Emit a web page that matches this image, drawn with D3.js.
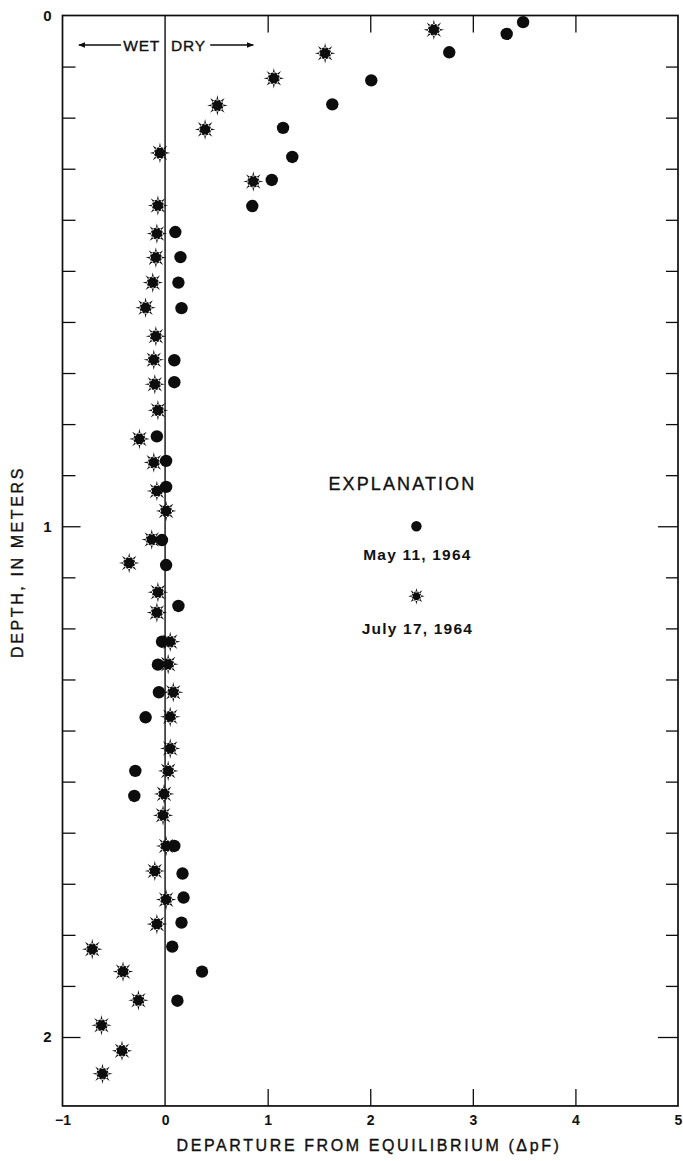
<!DOCTYPE html>
<html>
<head>
<meta charset="utf-8">
<script src="https://cdn.jsdelivr.net/npm/d3@7"></script>
<style>
  html, body { margin: 0; padding: 0; background: #fff; }
  svg { display: block; }
  text { font-family: "Liberation Sans", Arial, sans-serif; fill: #111; }
</style>
</head>
<body>
<svg id="chart" width="683" height="1161"></svg>
<script>
// ---------- DATA ----------
// May 11, 1964 (filled circles): departure from equilibrium (ΔpF) and depth (m)
const mayDeparture = [3.49, 3.33, 2.77, 2.01, 1.63, 1.15, 1.24, 1.04, 0.85, 0.10,
  0.15, 0.13, 0.16, 0.09, 0.09, -0.08, 0.01, 0.01, -0.03, 0.01,
  0.13, -0.03, -0.07, -0.06, -0.19, -0.29, -0.30, 0.09, 0.17, 0.18,
  0.16, 0.07, 0.36, 0.12];
const mayDepth = [0.013, 0.036, 0.072, 0.127, 0.174, 0.220, 0.277, 0.322, 0.373, 0.424,
  0.473, 0.523, 0.573, 0.675, 0.718, 0.824, 0.872, 0.923, 1.027, 1.076,
  1.156, 1.226, 1.271, 1.325, 1.374, 1.479, 1.528, 1.626, 1.680, 1.727,
  1.776, 1.823, 1.872, 1.929];
// July 17, 1964 (sunburst symbols)
const julyDeparture = [2.62, 1.56, 1.06, 0.51, 0.39, -0.05, 0.86, -0.07, -0.08, -0.09,
  -0.12, -0.19, -0.09, -0.11, -0.10, -0.07, -0.25, -0.11, -0.08, 0.01,
  -0.13, -0.35, -0.07, -0.08, 0.05, 0.03, 0.08, 0.05, 0.05, 0.03,
  -0.01, -0.02, 0.01, -0.10, 0.01, -0.08, -0.71, -0.41, -0.26, -0.62,
  -0.42, -0.61];
const julyDepth = [0.028, 0.074, 0.123, 0.176, 0.223, 0.269, 0.325, 0.372, 0.427, 0.474,
  0.523, 0.572, 0.628, 0.674, 0.722, 0.773, 0.829, 0.875, 0.931, 0.970,
  1.026, 1.072, 1.129, 1.169, 1.226, 1.270, 1.325, 1.373, 1.435, 1.479,
  1.524, 1.566, 1.626, 1.675, 1.731, 1.779, 1.828, 1.872, 1.928, 1.977,
  2.027, 2.072];
const xTickValues = [-1, 0, 1, 2, 3, 4, 5];
const depthTickValues = [0.1,0.2,0.3,0.4,0.5,0.6,0.7,0.8,0.9,1.0,1.1,1.2,1.3,1.4,1.5,1.6,1.7,1.8,1.9,2.0];
const depthLabelValues = [0, 1, 2];
const seriesNames = ["May 11, 1964", "July 17, 1964"];

// ---------- LAYOUT ----------
const svg = d3.select("#chart");
const xMin = -1, xMax = 5, depthMax = 2.135;
const x = d3.scaleLinear().domain([xMin, xMax]).range([62.5, 678]);
const y = d3.scaleLinear().domain([0, 2]).range([15.5, 1037]);
const pL = x(xMin), pR = x(xMax), pT = y(0), pB = y(depthMax);
const ink = "#0d0d0d";

// frame
svg.append("rect")
  .attr("x", pL).attr("y", pT)
  .attr("width", pR - pL).attr("height", pB - pT)
  .attr("fill", "none").attr("stroke", ink).attr("stroke-width", 1.7);

// zero line
svg.append("line")
  .attr("x1", x(0)).attr("x2", x(0)).attr("y1", pT).attr("y2", pB)
  .attr("stroke", ink).attr("stroke-width", 1.4);

// bottom axis (ticks point inward)
const gB = svg.append("g").attr("transform", `translate(0,${pB})`)
  .call(d3.axisBottom(x).tickValues(xTickValues).tickSize(-17).tickPadding(9).tickFormat(d3.format("d")));
gB.select(".domain").remove();
gB.selectAll(".tick line").attr("stroke", ink).attr("stroke-width", 1.3)
  .filter(d => d === xMin || d === xMax || d === 0).remove();
gB.selectAll(".tick text").attr("font-size", 14).attr("font-weight", "bold")
  .style("font-family", "'Liberation Sans', Arial, sans-serif").attr("fill", ink);

// top axis ticks (inward, no labels)
const gT = svg.append("g").attr("transform", `translate(0,${pT})`)
  .call(d3.axisTop(x).tickValues(xTickValues.filter(d => d > xMin && d < xMax && d !== 0)).tickSize(-17).tickFormat(""));
gT.select(".domain").remove();
gT.selectAll(".tick line").attr("stroke", ink).attr("stroke-width", 1.3);

// left axis (inward ticks, labels only at whole metres)
const gL = svg.append("g").attr("transform", `translate(${pL},0)`)
  .call(d3.axisLeft(y).tickValues(depthTickValues).tickSize(-13).tickFormat(""));
gL.select(".domain").remove();
gL.selectAll(".tick line").attr("stroke", ink).attr("stroke-width", 1.3)
  .filter(d => Math.abs(d - Math.round(d)) < 1e-6).attr("x2", 18);
const gLL = svg.append("g").attr("transform", `translate(${pL},0)`)
  .call(d3.axisLeft(y).tickValues(depthLabelValues).tickSize(0).tickPadding(11).tickFormat(d3.format("d")));
gLL.select(".domain").remove();
gLL.selectAll(".tick text").attr("font-size", 15).attr("font-weight", "bold")
  .style("font-family", "'Liberation Sans', Arial, sans-serif").attr("fill", ink);

// right axis ticks
const gR = svg.append("g").attr("transform", `translate(${pR},0)`)
  .call(d3.axisRight(y).tickValues(depthTickValues).tickSize(-12).tickFormat(""));
gR.select(".domain").remove();
gR.selectAll(".tick line").attr("stroke", ink).attr("stroke-width", 1.3)
  .filter(d => Math.abs(d - Math.round(d)) < 1e-6).attr("x2", -20);

// axis titles
const heavy = sel => sel.attr("stroke", ink).attr("stroke-width", 0.35);
svg.append("text")
  .attr("x", 369).attr("y", 1151)
  .attr("text-anchor", "middle").attr("font-size", 16).attr("letter-spacing", 2.6)
  .call(heavy)
  .text("DEPARTURE FROM EQUILIBRIUM (ΔpF)");
svg.append("text")
  .attr("transform", `translate(23,${y(1.07)}) rotate(-90)`)
  .attr("text-anchor", "middle").attr("font-size", 16).attr("letter-spacing", 2.6)
  .call(heavy)
  .text("DEPTH, IN METERS");

// WET / DRY annotation
const defs = svg.append("defs");
defs.append("marker").attr("id", "ah").attr("viewBox", "0 0 10 10")
  .attr("refX", 9).attr("refY", 5).attr("markerWidth", 7).attr("markerHeight", 7)
  .attr("markerUnits", "userSpaceOnUse").attr("orient", "auto")
  .append("path").attr("d", "M0,1 L10,5 L0,9 Z").attr("fill", ink);
const annY = 45;
svg.append("line").attr("x1", x(-0.43)).attr("x2", x(-0.84)).attr("y1", annY).attr("y2", annY)
  .attr("stroke", ink).attr("stroke-width", 1.3).attr("marker-end", "url(#ah)");
svg.append("line").attr("x1", x(0.44)).attr("x2", x(0.86)).attr("y1", annY).attr("y2", annY)
  .attr("stroke", ink).attr("stroke-width", 1.3).attr("marker-end", "url(#ah)");
svg.append("text").attr("x", x(0) - 5).attr("y", annY + 6).attr("text-anchor", "end")
  .attr("font-size", 15.5).attr("letter-spacing", 0.8).call(heavy).text("WET");
svg.append("text").attr("x", x(0) + 6).attr("y", annY + 6).attr("text-anchor", "start")
  .attr("font-size", 15.5).attr("letter-spacing", 0.8).call(heavy).text("DRY");

// sunburst symbol path
function burstPath(r0, r1, n) {
  const p = d3.path();
  p.moveTo(r0, 0); p.arc(0, 0, r0, 0, 2 * Math.PI); p.closePath();
  for (let i = 0; i < n; i++) {
    const a = i * 2 * Math.PI / n;
    const c = Math.cos(a), s = Math.sin(a), w = 1.1;
    p.moveTo((r0 - 1) * c - w * s, (r0 - 1) * s + w * c);
    p.lineTo(r1 * c, r1 * s);
    p.lineTo((r0 - 1) * c + w * s, (r0 - 1) * s - w * c);
    p.closePath();
  }
  return p.toString();
}

// data marks
const mayData = mayDeparture.map((v, i) => ({ v, d: mayDepth[i] }));
const julyData = julyDeparture.map((v, i) => ({ v, d: julyDepth[i] }));

svg.append("g").selectAll("circle").data(mayData).join("circle")
  .attr("cx", p => x(p.v)).attr("cy", p => y(p.d)).attr("r", 6.2).attr("fill", ink);

const burst = burstPath(6, 10.3, 8);
svg.append("g").selectAll("path").data(julyData).join("path")
  .attr("transform", p => `translate(${x(p.v)},${y(p.d)})`)
  .attr("d", burst).attr("fill", ink);

// legend (EXPLANATION)
const legX = x(2.45);
svg.append("text").attr("x", legX - 14).attr("y", y(0.93)).attr("text-anchor", "middle")
  .attr("font-size", 18).attr("letter-spacing", 2.1).call(heavy).text("EXPLANATION");
svg.append("circle").attr("cx", legX).attr("cy", y(1.0)).attr("r", 5.2).attr("fill", ink);
svg.append("text").attr("x", legX + 1).attr("y", y(1.067)).attr("text-anchor", "middle")
  .attr("font-size", 15.5).attr("font-weight", "bold").attr("letter-spacing", 1.2).text(seriesNames[0]);
svg.append("path").attr("transform", `translate(${legX},${y(1.137)})`)
  .attr("d", burstPath(4.8, 8.3, 8)).attr("fill", ink);
svg.append("text").attr("x", legX + 1).attr("y", y(1.21)).attr("text-anchor", "middle")
  .attr("font-size", 15.5).attr("font-weight", "bold").attr("letter-spacing", 1.2).text(seriesNames[1]);
</script>
</body>
</html>
